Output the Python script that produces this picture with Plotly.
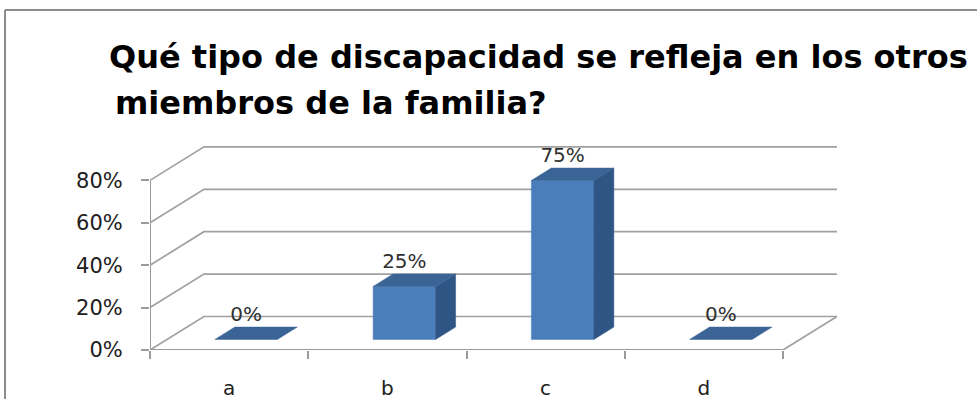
import plotly.graph_objects as go

# ---------------- data ----------------
categories = ["a", "b", "c", "d"]
values = [0, 25, 75, 0]
data_labels = ["0%", "25%", "75%", "0%"]
y_ticks = [0, 20, 40, 60, 80]
y_tick_labels = ["0%", "20%", "40%", "60%", "80%"]
title_line1 = "Qué tipo de discapacidad se refleja en los otros"
title_line2 = "miembros de la familia?"

# ---------------- 3-D look geometry (in axis units) ----------------
DX = 0.341    # floor depth, category units
DY = 15.8     # floor depth, percent units
T0, T1 = 0.315, 0.685   # bar front/back as fraction of floor depth
BW = 0.395    # bar width, category units
LABEL_GAP = 5.2  # percent units above bar top-back edge
n = len(categories)

GRID = "#a0a0a0"
FRONT = "#4a7ebb"
SIDE = "#2f5585"
TOP = "#3b6496"

fig = go.Figure()

# gridlines (side wall diagonal + back wall horizontal)
gx, gy = [], []
for v in y_ticks:
    gx += [0, DX, n + DX, None]
    gy += [v, v + DY, v + DY, None]
# floor right edge
gx += [n, n + DX, None]
gy += [0, DY, None]
fig.add_trace(go.Scatter(x=gx, y=gy, mode="lines", line=dict(color=GRID, width=1.7),
                         hoverinfo="skip", showlegend=False))
# front axes
fig.add_trace(go.Scatter(x=[0, n, None, 0, 0], y=[0, 0, None, 0, max(y_ticks)], mode="lines",
                         line=dict(color="#9a9a9a", width=2), hoverinfo="skip", showlegend=False))

# bars
for i, v in enumerate(values):
    x0 = i + 0.5 - BW / 2 + T0 * DX
    x1 = x0 + BW
    y0 = T0 * DY
    y1 = y0 + v
    ddx = (T1 - T0) * DX
    ddy = (T1 - T0) * DY
    if v > 0:
        fig.add_trace(go.Scatter(x=[x0, x1, x1, x0, x0], y=[y0, y0, y1, y1, y0], fill="toself",
                                 fillcolor=FRONT, mode="lines", line=dict(color=FRONT, width=0.5),
                                 hoverinfo="skip", showlegend=False))
        fig.add_trace(go.Scatter(x=[x1, x1 + ddx, x1 + ddx, x1, x1],
                                 y=[y0, y0 + ddy, y1 + ddy, y1, y0], fill="toself",
                                 fillcolor=SIDE, mode="lines", line=dict(color=SIDE, width=0.5),
                                 hoverinfo="skip", showlegend=False))
    fig.add_trace(go.Scatter(x=[x0, x1, x1 + ddx, x0 + ddx, x0],
                             y=[y1, y1, y1 + ddy, y1 + ddy, y1], fill="toself",
                             fillcolor=TOP, mode="lines", line=dict(color=TOP, width=0.5),
                             hoverinfo="skip", showlegend=False))

# data labels
lx = [i + 0.5 + T0 * DX for i in range(n)]
ly = [v + T1 * DY + LABEL_GAP for v in values]
fig.add_trace(go.Scatter(x=lx, y=ly, mode="text", text=data_labels, textposition="middle center",
                         textfont=dict(family="DejaVu Sans", size=20, color="#303030"),
                         cliponaxis=False, hoverinfo="skip", showlegend=False))

# invisible trace for the tick axis
fig.add_trace(go.Scatter(x=[0], y=[0], xaxis="x2", mode="markers", marker=dict(opacity=0),
                         hoverinfo="skip", showlegend=False))

XR = [0, 4.4234]
TOPM, BOTM = 140, 50
PH = 400 - TOPM - BOTM
Y0PX = 400 - BOTM


def py(pix):
    return (Y0PX - pix) / PH


def px(pix):
    return (pix - 150) / 700


fig.update_layout(
    width=978, height=400, autosize=False,
    margin=dict(l=150, r=128, t=TOPM, b=BOTM, autoexpand=False),
    paper_bgcolor="white", plot_bgcolor="white",
    xaxis=dict(range=XR, tickvals=[i + 0.5 for i in range(n)], ticktext=categories,
               ticks="", showgrid=False, zeroline=False, showline=False, automargin=False,
               tickfont=dict(family="DejaVu Sans", size=20, color="#202020"),
               ticklabelstandoff=24, fixedrange=True),
    xaxis2=dict(range=XR, overlaying="x", anchor="y", side="bottom", automargin=False,
                tickvals=list(range(n + 1)), ticks="outside", ticklen=8, tickwidth=2,
                tickcolor="#9a9a9a", showticklabels=False, showgrid=False, zeroline=False,
                showline=False, fixedrange=True),
    yaxis=dict(range=[0, PH / 2.12], tickvals=y_ticks, ticktext=y_tick_labels,
               ticks="outside", ticklen=8, tickwidth=2, tickcolor="#9a9a9a",
               showgrid=False, zeroline=False, showline=False, automargin=False,
               tickfont=dict(family="DejaVu Sans", size=21, color="#202020"),
               ticklabelstandoff=14, fixedrange=True),
    annotations=[
        dict(text=title_line1, xref="paper", yref="paper", x=px(107), y=py(57),
             xanchor="left", yanchor="middle", showarrow=False,
             font=dict(family="DejaVu Sans", size=32, color="black", weight="bold")),
        dict(text=title_line2, xref="paper", yref="paper", x=px(113), y=py(103),
             xanchor="left", yanchor="middle", showarrow=False,
             font=dict(family="DejaVu Sans", size=32, color="black", weight="bold")),
    ],
    shapes=[
        dict(type="line", xref="paper", yref="paper", x0=px(5), x1=px(977), y0=py(10), y1=py(10),
             line=dict(color="#8c8c8c", width=2), layer="below"),
        dict(type="line", xref="paper", yref="paper", x0=px(5), x1=px(5), y0=py(10), y1=py(399),
             line=dict(color="#8c8c8c", width=2), layer="below"),
    ],
)

fig.write_html("out.html", config={"displayModeBar": False},
               post_script="document.body.style.margin='0';document.body.style.overflow='hidden';")
